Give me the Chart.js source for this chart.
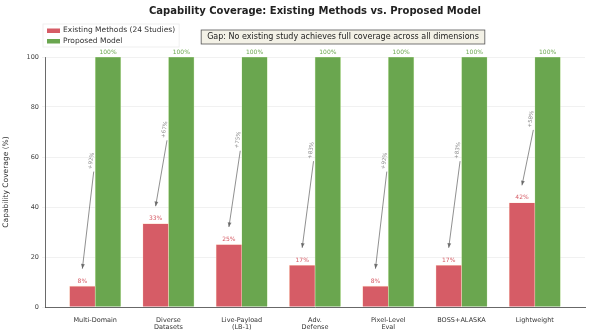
<!DOCTYPE html>
<html>
<head>
<meta charset="utf-8">
<script src="https://cdn.jsdelivr.net/npm/chart.js@4.4.1/dist/chart.umd.min.js"></script>
<style>
  html, body { margin: 0; padding: 0; background: #fff; }
  #wrap { width: 605px; height: 331px; }
</style>
</head>
<body>
<div id="wrap"><canvas id="coverageChart" width="605" height="331"></canvas></div>
<script>
// capability categories and coverage (%)
const categories = [
    ["Multi-Domain"],
    ["Diverse", "Datasets"],
    ["Live-Payload", "(LB-1)"],
    ["Adv.", "Defense"],
    ["Pixel-Level", "Eval"],
    ["BOSS+ALASKA"],
    ["Lightweight"]
];
const existingCoverage = [8.33, 33.33, 25, 16.67, 8.33, 16.67, 41.67];
const proposedCoverage = [100, 100, 100, 100, 100, 100, 100];
const yTicks = [0, 20, 40, 60, 80, 100];

const RED = '#d65c66';
const GREEN = '#6aa64f';
const FONT = '"DejaVu Sans", sans-serif';

const BAR_W = 0.35;

// title, legend, gap note, value labels and gain arrows
const overlayPlugin = {
    id: 'overlay',
    afterDatasetsDraw(chart) {
        const { ctx, chartArea, scales } = chart;
        const x = scales.x, y = scales.y;
        ctx.save();

        // title
        ctx.fillStyle = '#222';
        ctx.font = `bold 10px ${FONT}`;
        ctx.textAlign = 'center';
        ctx.textBaseline = 'middle';
        ctx.fillText('Capability Coverage: Existing Methods vs. Proposed Model', (chartArea.left + chartArea.right) / 2, 11);

        // value labels
        ctx.font = `6px ${FONT}`;
        ctx.textBaseline = 'bottom';
        existingCoverage.forEach((v, i) => {
            ctx.fillStyle = RED;
            ctx.fillText(Math.round(v) + '%', x.getPixelForValue(i - BAR_W / 2), y.getPixelForValue(v) - 2);
        });
        proposedCoverage.forEach((v, i) => {
            ctx.fillStyle = GREEN;
            ctx.fillText(Math.round(v) + '%', x.getPixelForValue(i + BAR_W / 2), y.getPixelForValue(v) - 2);
        });

        // gain arrows
        existingCoverage.forEach((v, i) => {
            const sx = x.getPixelForValue(i - 0.02), sy = y.getPixelForValue((v + proposedCoverage[i]) / 2);
            const ex = x.getPixelForValue(i - BAR_W / 2), ey = y.getPixelForValue(v + 7);
            ctx.strokeStyle = 'rgba(90,90,90,0.75)';
            ctx.fillStyle = 'rgba(90,90,90,0.8)';
            ctx.lineWidth = 0.9;
            ctx.beginPath();
            ctx.moveTo(sx, sy);
            ctx.lineTo(ex, ey);
            ctx.stroke();
            const a = Math.atan2(ey - sy, ex - sx);
            ctx.beginPath();
            ctx.moveTo(ex, ey);
            ctx.lineTo(ex - 5 * Math.cos(a - 0.4), ey - 5 * Math.sin(a - 0.4));
            ctx.lineTo(ex - 5 * Math.cos(a + 0.4), ey - 5 * Math.sin(a + 0.4));
            ctx.closePath();
            ctx.fill();
            // gain text
            ctx.save();
            ctx.translate(sx - 1, sy - 2);
            ctx.rotate(-Math.PI / 2 + 0.15);
            ctx.font = `5.5px ${FONT}`;
            ctx.fillStyle = 'rgba(110,110,110,0.8)';
            ctx.textAlign = 'left';
            ctx.textBaseline = 'bottom';
            ctx.fillText('+' + Math.round(proposedCoverage[i] - v) + '%', 0, 0);
            ctx.restore();
        });

        // legend
        ctx.font = `7.5px ${FONT}`;
        const items = [[RED, 'Existing Methods (24 Studies)'], [GREEN, 'Proposed Model']];
        const lw = Math.max(...items.map(([, t]) => ctx.measureText(t).width)) + 24;
        ctx.fillStyle = 'rgba(255,255,255,0.85)';
        ctx.strokeStyle = '#ececec';
        ctx.lineWidth = 0.8;
        ctx.fillRect(43, 24, lw, 23);
        ctx.strokeRect(43, 24, lw, 23);
        ctx.textAlign = 'left';
        ctx.textBaseline = 'middle';
        items.forEach(([c, t], k) => {
            const ry = 30.5 + k * 10.5;
            ctx.fillStyle = c;
            ctx.fillRect(47, ry - 2, 13, 4.5);
            ctx.fillStyle = '#333';
            ctx.fillText(t, 63, ry);
        });

        // gap note
        ctx.font = `8px ${FONT}`;
        const note = 'Gap: No existing study achieves full coverage across all dimensions';
        const w = ctx.measureText(note).width;
        const nx = 343 - w / 2 - 6;
        ctx.fillStyle = '#f3f1e6';
        ctx.fillRect(nx, 30, w + 12, 14);
        ctx.strokeStyle = '#555';
        ctx.lineWidth = 0.8;
        ctx.strokeRect(nx, 30, w + 12, 14);
        ctx.fillStyle = '#222';
        ctx.fillText(note, nx + 6, 37);

        ctx.restore();
    }
};

const xy = (vals, off) => vals.map((v, i) => ({ x: i + off, y: v }));

new Chart(document.getElementById('coverageChart'), {
    type: 'bar',
    data: {
        datasets: [
            {
                label: 'Existing Methods (24 Studies)',
                data: xy(existingCoverage, -BAR_W / 2),
                backgroundColor: RED,
                borderColor: 'rgba(255,200,170,0.6)',
                borderWidth: 0.6,
                barPercentage: 1.0,
                categoryPercentage: 1.0,
                grouped: false
            },
            {
                label: 'Proposed Model',
                data: xy(proposedCoverage, BAR_W / 2),
                backgroundColor: GREEN,
                borderColor: 'rgba(190,230,150,0.6)',
                borderWidth: 0.6,
                barPercentage: 1.0,
                categoryPercentage: 1.0,
                grouped: false
            }
        ]
    },
    options: {
        responsive: false,
        animation: false,
        layout: { padding: { top: 57, right: 20, left: 0, bottom: 0 } },
        plugins: {
            legend: { display: false },
            tooltip: { enabled: false }
        },
        scales: {
            x: {
                type: 'linear',
                offset: false,
                min: -0.685,
                max: 6.685,
                grid: { display: false },
                border: { color: '#444', width: 0.8 },
                afterFit(scale) { scale.height = 24; },
                afterBuildTicks(scale) {
                    scale.ticks = categories.map((c, i) => ({ value: i }));
                },
                ticks: {
                    autoSkip: false,
                    maxRotation: 0,
                    font: { family: FONT, size: 6.5 },
                    color: '#333',
                    padding: 1,
                    callback: (v) => categories[v] || ''
                }
            },
            y: {
                min: 0,
                max: 100,
                afterBuildTicks(scale) {
                    scale.ticks = yTicks.map(v => ({ value: v }));
                },
                afterFit(scale) { scale.width = 45; },
                grid: { color: 'rgba(0,0,0,0.07)', lineWidth: 0.8, tickLength: 3, drawTicks: true },
                border: { color: '#444', width: 0.8, dash: [] },
                ticks: {
                    font: { family: FONT, size: 6.5 },
                    color: '#444',
                    padding: 3
                },
                title: {
                    display: true,
                    text: 'Capability Coverage (%)',
                    font: { family: FONT, size: 7.5 },
                    color: '#333',
                    padding: 2
                }
            }
        }
    },
    plugins: [overlayPlugin]
});
</script>
</body>
</html>
